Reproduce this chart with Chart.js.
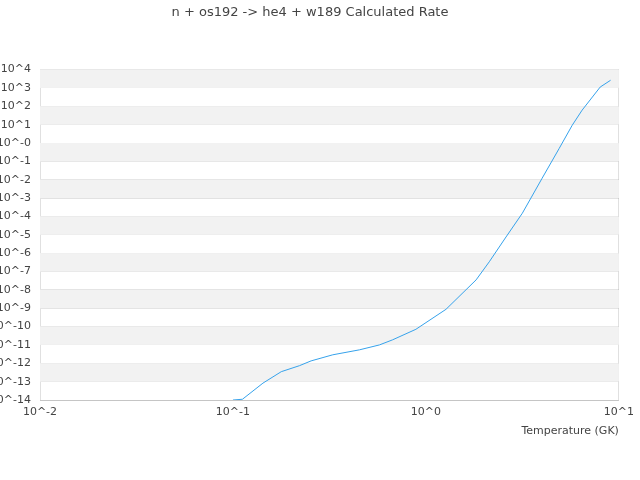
<!DOCTYPE html>
<html>
<head>
<meta charset="utf-8">
<script src="https://cdn.jsdelivr.net/npm/chart.js@4/dist/chart.umd.min.js"></script>
<style>
  html, body { margin: 0; padding: 0; background: #fff; }
  #wrap { width: 640px; height: 480px; }
</style>
</head>
<body>
<div id="wrap"><canvas id="rateChart" width="640" height="480"></canvas></div>
<script>
// temperatures (GK) and rates
const temperatures = [0.10, 0.112, 0.143, 0.178, 0.221, 0.254, 0.329, 0.452, 0.574, 0.672, 0.887,
  1.27, 1.82, 2.13, 2.6, 3.16, 4.0, 4.9, 5.73, 6.45, 8.0, 9.06];
const rates = [1.0e-14, 1.1e-14, 8.3e-14, 3.5e-13, 7.4e-13, 1.35e-12, 2.9e-12, 5.4e-12, 1.0e-11, 1.9e-11, 7.1e-11,
  8.7e-10, 3.5e-8, 3.4e-7, 7.6e-6, 1.5e-4, 1.2e-2, 0.5, 9.3, 62, 1120, 2630];

const xTickValues = [0.01, 0.1, 1, 10];
const xTickLabels = ['10^-2', '10^-1', '10^0', '10^1'];
const yTickValues = [1e4, 1e3, 1e2, 1e1, 1e0, 1e-1, 1e-2, 1e-3, 1e-4, 1e-5, 1e-6, 1e-7, 1e-8, 1e-9, 1e-10, 1e-11, 1e-12, 1e-13, 1e-14];
const yTickLabels = ['10^4', '10^3', '10^2', '10^1', '10^-0', '10^-1', '10^-2', '10^-3', '10^-4', '10^-5', '10^-6', '10^-7',
  '10^-8', '10^-9', '10^-10', '10^-11', '10^-12', '10^-13', '10^-14'];

const points = temperatures.map((t, i) => ({ x: t, y: rates[i] }));

// alternating grey bands between decades
const bandPlugin = {
  id: 'bands',
  beforeDatasetsDraw(chart) {
    const { ctx, chartArea, scales } = chart;
    ctx.save();
    ctx.fillStyle = '#f2f2f2';
    for (let e = -13; e < 4; e += 2) {
      const top = scales.y.getPixelForValue(Math.pow(10, e + 1));
      const bottom = scales.y.getPixelForValue(Math.pow(10, e));
      ctx.fillRect(chartArea.left, top, chartArea.right - chartArea.left, bottom - top);
    }
    ctx.restore();
  }
};

Chart.defaults.font.family = 'DejaVu Sans';
Chart.defaults.color = '#444';

new Chart(document.getElementById('rateChart').getContext('2d'), {
  type: 'scatter',
  data: {
    datasets: [{
      data: points,
      showLine: true,
      borderColor: '#36A2EB',
      borderWidth: 1,
      pointRadius: 0,
      fill: false
    }]
  },
  plugins: [bandPlugin],
  options: {
    responsive: false,
    animation: false,
    devicePixelRatio: 1,
    layout: { padding: { left: 0, right: 20, top: 0, bottom: 0 } },
    plugins: {
      legend: { display: false },
      tooltip: { enabled: false },
      title: {
        display: true,
        text: 'n + os192 -> he4 + w189 Calculated Rate',
        color: '#444',
        font: { size: 13, weight: 'normal' },
        padding: { top: 5, bottom: 49 }
      }
    },
    scales: {
      x: {
        type: 'logarithmic',
        min: 0.01,
        max: 10,
        afterBuildTicks: (scale) => { scale.ticks = xTickValues.map(v => ({ value: v })); },
        afterFit: (scale) => { scale.height = 80; },
        ticks: {
          autoSkip: false,
          maxRotation: 0,
          padding: 6,
          font: { size: 11 },
          callback: (v, i) => xTickLabels[i]
        },
        grid: {
          drawTicks: false,
          color: (c) => (c.tick && c.tick.value === 10 ? 'rgba(0,0,0,0.12)' : 'rgba(0,0,0,0)')
        },
        border: { display: true, color: 'rgba(0,0,0,0.12)' },
        title: {
          display: true,
          text: 'Temperature (GK)',
          align: 'end',
          font: { size: 11 },
          padding: { top: 0, bottom: 42 }
        }
      },
      y: {
        type: 'logarithmic',
        min: 1e-14,
        max: 1e4,
        afterBuildTicks: (scale) => { scale.ticks = yTickValues.map(v => ({ value: v })); },
        afterFit: (scale) => { scale.width = 40; },
        ticks: {
          autoSkip: false,
          padding: 9,
          font: { size: 11 },
          callback: (v, i) => yTickLabels[i]
        },
        grid: { drawTicks: false, color: 'rgba(0,0,0,0.12)' },
        border: { display: true, color: 'rgba(0,0,0,0.12)' }
      }
    }
  }
});
</script>
</body>
</html>
